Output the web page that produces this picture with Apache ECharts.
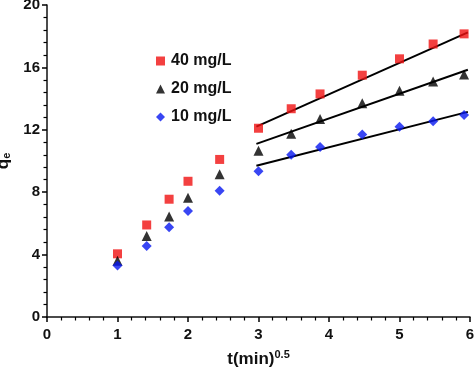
<!DOCTYPE html>
<html><head><meta charset="utf-8">
<script src="https://cdn.jsdelivr.net/npm/echarts@6/dist/echarts.min.js"></script>
<style>html,body{margin:0;padding:0;background:#fff}#c{width:474px;height:372px}</style>
</head><body><div id="c"></div>
<script>
var sqrtT = [1, 1.414, 1.732, 2, 2.449, 3, 3.464, 3.873, 4.472, 5, 5.477, 5.916];
var q40 = [4.05, 5.9, 7.55, 8.7, 10.1, 12.1, 13.35, 14.3, 15.5, 16.55, 17.5, 18.15];
var q20 = [3.6, 5.2, 6.45, 7.65, 9.15, 10.65, 11.75, 12.7, 13.7, 14.5, 15.1, 15.55];
var q10 = [3.3, 4.55, 5.75, 6.8, 8.1, 9.35, 10.4, 10.9, 11.7, 12.2, 12.55, 12.95];
var fitX = [2.97, 5.97];
var fit40 = [12.2, 18.25];
var fit20 = [11.1, 15.85];
var fit10 = [9.7, 13.15];
var names = ['40 mg/L', '20 mg/L', '10 mg/L'];
var xTicks = [0, 1, 2, 3, 4, 5, 6];
var yTicks = [0, 4, 8, 12, 16, 20];

function pts(xs, ys) { return xs.map(function (x, i) { return [x, ys[i]]; }); }
var font = 'Liberation Sans, Arial, sans-serif';
var chart = echarts.init(document.getElementById('c'));
chart.setOption({
  animation: false,
  grid: { left: 47, right: 4, top: 5, bottom: 55, containLabel: false, outerBoundsMode: 'none' },
  legend: {
    orient: 'vertical', left: 151, top: 48, itemWidth: 9, itemHeight: 9, itemGap: 12,
    textStyle: { fontFamily: font, fontWeight: 'bold', fontSize: 16, color: '#111', padding: [0, 0, 0, 1] },
    data: [
      { name: names[0], icon: 'rect' },
      { name: names[1], icon: 'triangle' },
      { name: names[2], icon: 'diamond' }
    ]
  },
  xAxis: {
    type: 'value', min: 0, max: 6, interval: 1,
    name: '{a|t(min)}{b|0.5}', nameLocation: 'middle', nameGap: 32,
    nameTextStyle: { rich: {
      a: { fontFamily: font, fontWeight: 'bold', fontSize: 17, color: '#111' },
      b: { fontFamily: font, fontWeight: 'bold', fontSize: 11, color: '#111', verticalAlign: 'top', padding: [0, 0, 10, 0] }
    } },
    axisLine: { show: true, onZero: false, lineStyle: { color: '#111', width: 1.5 } },
    axisTick: { show: true, inside: false, length: 5, lineStyle: { color: '#000', width: 1.5 } },
    minorTick: { show: true, splitNumber: 5, length: 3.5, lineStyle: { color: '#000', width: 1.2 } },
    splitLine: { show: false },
    minorSplitLine: { show: false },
    axisLabel: { fontFamily: font, fontWeight: 'bold', fontSize: 15, color: '#111', margin: 10,
      formatter: function (v) { return xTicks.indexOf(v) >= 0 ? String(v) : ''; } }
  },
  yAxis: {
    type: 'value', min: 0, max: 20, interval: 4,
    name: '{a|q}{b|e}', nameLocation: 'middle', nameGap: 33, nameRotate: 90,
    nameTextStyle: { rich: {
      a: { fontFamily: font, fontWeight: 'bold', fontSize: 17, color: '#111' },
      b: { fontFamily: font, fontWeight: 'bold', fontSize: 11, color: '#111', verticalAlign: 'bottom', padding: [8, 0, 0, 0] }
    } },
    axisLine: { show: true, onZero: false, lineStyle: { color: '#111', width: 1.5 } },
    axisTick: { show: true, inside: false, length: 5, lineStyle: { color: '#000', width: 1.5 } },
    minorTick: { show: true, splitNumber: 5, length: 3.5, lineStyle: { color: '#000', width: 1.2 } },
    splitLine: { show: false },
    minorSplitLine: { show: false },
    axisLabel: { fontFamily: font, fontWeight: 'bold', fontSize: 15, color: '#111', margin: 7,
      formatter: function (v) { return yTicks.indexOf(v) >= 0 ? String(v) : ''; } }
  },
  series: [
    { name: names[0], type: 'scatter', symbol: 'rect', symbolSize: 9, itemStyle: { color: '#f01010' }, data: pts(sqrtT, q40), z: 3 },
    { name: names[1], type: 'scatter', symbol: 'triangle', symbolSize: 10, itemStyle: { color: '#000' }, data: pts(sqrtT, q20), z: 3 },
    { name: names[2], type: 'scatter', symbol: 'diamond', symbolSize: 10, itemStyle: { color: '#0818f0' }, data: pts(sqrtT, q10), z: 3 },
    { type: 'line', data: pts(fitX, fit40), symbol: 'none', lineStyle: { color: '#000', width: 2 }, z: 2 },
    { type: 'line', data: pts(fitX, fit20), symbol: 'none', lineStyle: { color: '#000', width: 2 }, z: 2 },
    { type: 'line', data: pts(fitX, fit10), symbol: 'none', lineStyle: { color: '#000', width: 2 }, z: 2 }
  ]
});
</script></body></html>
